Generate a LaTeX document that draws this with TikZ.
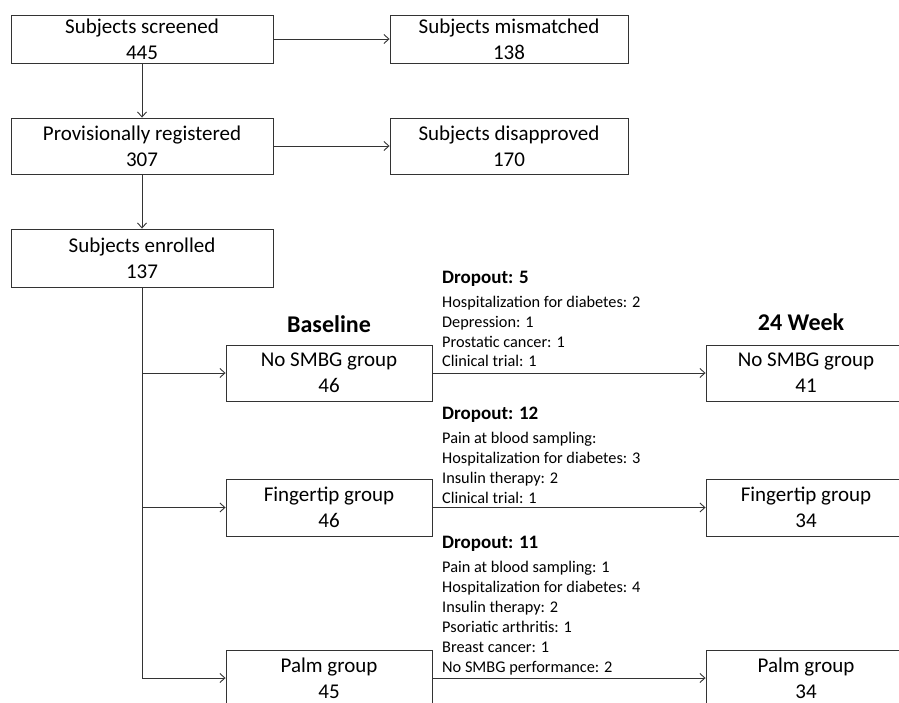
\documentclass[tikz,border=0pt]{standalone}
\usepackage{fontspec}
\setmainfont{Carlito}
\usetikzlibrary{arrows.meta}
\begin{document}
\begin{tikzpicture}[x=1pt,y=-1pt,
  box/.style={draw=black!80, line width=0.9pt, inner sep=0pt, align=center, font=\fontsize{21}{26}\selectfont},
  conn/.style={draw=black!80, line width=0.9pt},
  arr/.style={conn, -{Straight Barb[length=5pt,width=9pt]}},
  head/.style={font=\fontsize{24}{28}\selectfont\bfseries, inner sep=0pt, text height=15.4pt, text depth=0pt},
  dtitle/.style={anchor=west, font=\fontsize{19}{22}\selectfont\bfseries, inner sep=0pt, text height=12.2pt, text depth=0pt},
  dline/.style={anchor=west, font=\fontsize{16.3}{20}\selectfont, inner sep=0pt, text height=10.4pt, text depth=0pt}]
\clip (0,0) rectangle (899,702);
\fill[white] (0,0) rectangle (899,702);
% top column
\node[box, minimum width=262pt, minimum height=48pt] (screened) at (142,39) {Subjects screened\\445};
\node[box, minimum width=238pt, minimum height=48pt] (mismatched) at (509,39) {Subjects mismatched\\138};
\node[box, minimum width=262pt, minimum height=56pt] (prov) at (142,146) {Provisionally registered\\307};
\node[box, minimum width=238pt, minimum height=56pt] (disapp) at (509,146) {Subjects disapproved\\170};
\node[box, minimum width=262pt, minimum height=58pt] (enrolled) at (142,258) {Subjects enrolled\\137};
% headers
\node[head] (hbase) at (329,325) {Baseline};
\node[head] (hweek) at (801,323) {24 Week};
% groups
\node[box, minimum width=206pt, minimum height=56pt] (nosmbgL) at (329,373) {No SMBG group\\46};
\node[box, minimum width=206pt, minimum height=57pt] (fingerL) at (329,507.5) {Fingertip group\\46};
\node[box, minimum width=206pt, minimum height=56pt] (palmL) at (329,678) {Palm group\\45};
\node[box, minimum width=200pt, minimum height=56pt] (nosmbgR) at (806,373) {No SMBG group\\41};
\node[box, minimum width=200pt, minimum height=57pt] (fingerR) at (806,507.5) {Fingertip group\\34};
\node[box, minimum width=200pt, minimum height=56pt] (palmR) at (806,678) {Palm group\\34};
% dropout texts
\node[dtitle] (d5) at (442,277) {Dropout: 5};
\node[dline] (d5a) at (442,302) {Hospitalization for diabetes: 2};
\node[dline] (d5b) at (442,322) {Depression: 1};
\node[dline] (d5c) at (442,342) {Prostatic cancer: 1};
\node[dline] (d5d) at (442,361) {Clinical trial: 1};
\node[dtitle] (d12) at (442,413) {Dropout: 12};
\node[dline] (d12a) at (442,438) {Pain at blood sampling:};
\node[dline] (d12b) at (442,458) {Hospitalization for diabetes: 3};
\node[dline] (d12c) at (442,478) {Insulin therapy: 2};
\node[dline] (d12d) at (442,498) {Clinical trial: 1};
\node[dtitle] (d11) at (442,542) {Dropout: 11};
\node[dline] (d11a) at (442,567) {Pain at blood sampling: 1};
\node[dline] (d11b) at (442,587) {Hospitalization for diabetes: 4};
\node[dline] (d11c) at (442,607) {Insulin therapy: 2};
\node[dline] (d11d) at (442,627) {Psoriatic arthritis: 1};
\node[dline] (d11e) at (442,647) {Breast cancer: 1};
\node[dline] (d11f) at (442,667) {No SMBG performance: 2};
% connectors
\draw[arr] (screened) -- (mismatched);
\draw[arr] (prov) -- (disapp);
\draw[arr] (screened) -- (prov);
\draw[arr] (prov) -- (enrolled);
\draw[arr] (enrolled.south) |- (palmL.west);
\draw[arr] (enrolled.south |- nosmbgL.west) -- (nosmbgL.west);
\draw[arr] (enrolled.south |- fingerL.west) -- (fingerL.west);
\draw[arr] (nosmbgL) -- (nosmbgR);
\draw[arr] (fingerL) -- (fingerR);
\draw[arr] (palmL) -- (palmR);
\end{tikzpicture}
\end{document}
